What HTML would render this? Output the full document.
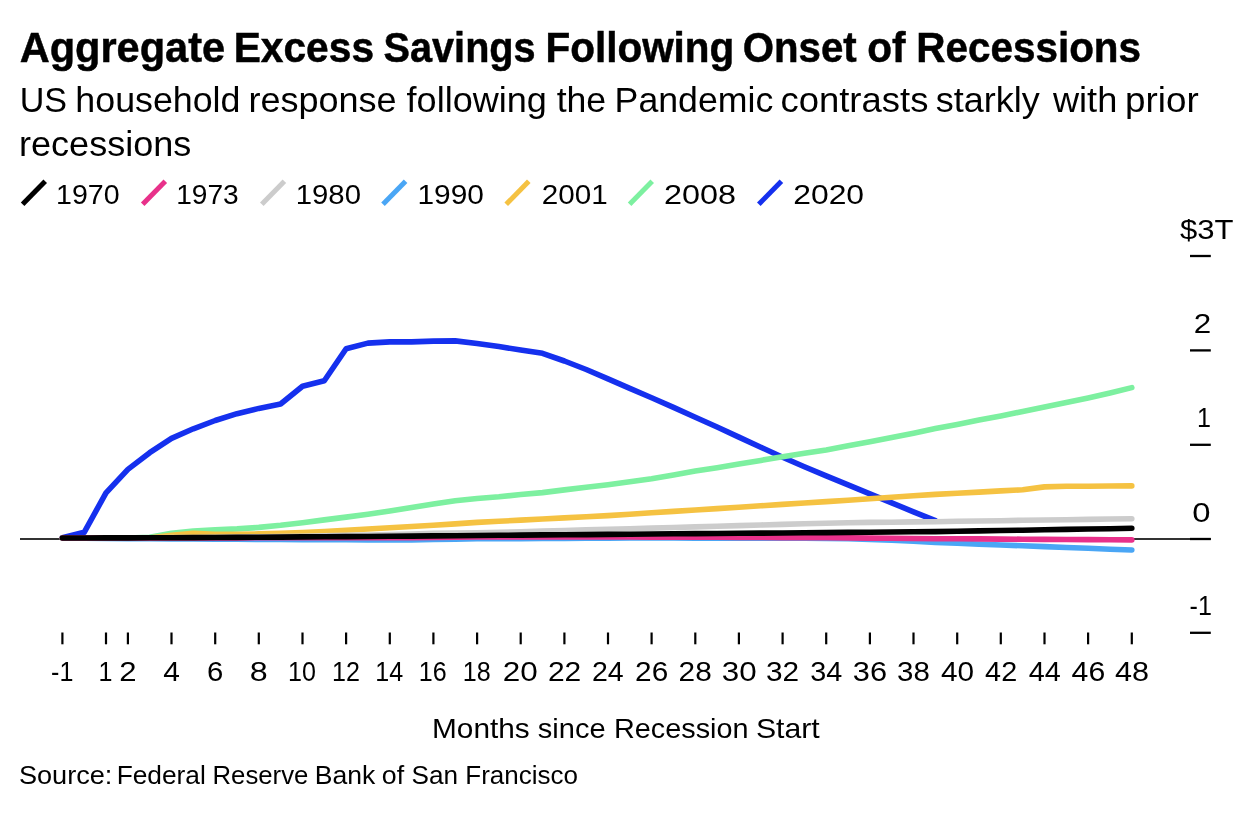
<!DOCTYPE html>
<html lang="en"><head><meta charset="utf-8"><title>Aggregate Excess Savings Following Onset of Recessions</title>
<style>
html,body{margin:0;padding:0;background:#fff;}
body{width:1254px;height:830px;overflow:hidden;}
svg{display:block;}
text{font-family:"Liberation Sans",Arial,Helvetica,sans-serif;fill:#000;}
</style></head><body>
<svg width="1254" height="830" viewBox="0 0 1254 830">
<rect width="1254" height="830" fill="#fff"/>
<line x1="22.6" y1="204.3" x2="45.2" y2="181.3" stroke="#000000" stroke-width="5"/>
<line x1="142.7" y1="204.3" x2="165.3" y2="181.3" stroke="#e8318a" stroke-width="5"/>
<line x1="261.8" y1="204.3" x2="284.4" y2="181.3" stroke="#cccccc" stroke-width="5"/>
<line x1="383.0" y1="204.3" x2="405.6" y2="181.3" stroke="#4aa6f5" stroke-width="5"/>
<line x1="506.2" y1="204.3" x2="528.8" y2="181.3" stroke="#f5c242" stroke-width="5"/>
<line x1="629.6" y1="204.3" x2="652.2" y2="181.3" stroke="#7df0a0" stroke-width="5"/>
<line x1="758.8" y1="204.3" x2="781.4" y2="181.3" stroke="#1530ee" stroke-width="5"/>

<line x1="20" y1="539" x2="1210.8" y2="539" stroke="#333" stroke-width="2"/>
<path d="M62.4,537.7 L84.2,532.3 L106.0,492.9 L127.9,469.4 L149.7,452.7 L171.5,438.4 L193.3,428.8 L215.2,420.5 L237.0,413.7 L258.8,408.4 L280.6,404.0 L302.5,386.3 L324.3,380.8 L346.1,348.7 L367.9,343.1 L389.8,341.9 L411.6,341.9 L433.4,341.1 L455.2,340.9 L477.1,343.5 L498.9,346.6 L520.7,350.0 L542.5,353.3 L564.4,361.0 L586.2,369.5 L608.0,378.9 L629.8,388.4 L651.6,397.8 L673.5,407.4 L695.3,417.2 L717.1,427.0 L738.9,437.1 L760.8,447.2 L782.6,457.3 L804.4,466.8 L826.2,475.9 L848.1,484.9 L869.9,493.9 L891.7,502.8 L913.5,511.8 L935.4,520.6" stroke="#1530ee" stroke-width="5.6" fill="none" stroke-linecap="round" stroke-linejoin="round"/>
<path d="M62.4,538.0 L84.2,538.0 L106.0,538.0 L127.9,538.0 L149.7,537.3 L171.5,533.2 L193.3,531.1 L215.2,529.9 L237.0,528.9 L258.8,527.4 L280.6,525.3 L302.5,522.7 L324.3,519.9 L346.1,517.1 L367.9,514.3 L389.8,511.0 L411.6,507.5 L433.4,504.0 L455.2,500.8 L477.1,498.5 L498.9,496.8 L520.7,494.5 L542.5,492.6 L564.4,489.9 L586.2,487.3 L608.0,484.7 L629.8,481.8 L651.6,478.8 L673.5,474.9 L695.3,471.1 L717.1,467.7 L738.9,464.0 L760.8,460.4 L782.6,456.8 L804.4,453.3 L826.2,449.9 L848.1,445.8 L869.9,441.8 L891.7,437.6 L913.5,433.3 L935.4,428.6 L957.2,424.4 L979.0,420.1 L1000.8,415.9 L1022.7,411.4 L1044.5,407.0 L1066.3,402.4 L1088.1,397.9 L1110.0,392.9 L1131.8,387.6" stroke="#7df0a0" stroke-width="5.6" fill="none" stroke-linecap="round" stroke-linejoin="round"/>
<path d="M62.4,538.0 L84.2,538.0 L106.0,538.0 L127.9,538.0 L149.7,538.0 L171.5,535.2 L193.3,533.3 L215.2,534.3 L237.0,534.2 L258.8,533.9 L280.6,533.3 L302.5,532.6 L324.3,531.5 L346.1,530.3 L367.9,529.0 L389.8,527.7 L411.6,526.5 L433.4,525.2 L455.2,523.9 L477.1,522.4 L498.9,521.3 L520.7,520.1 L542.5,519.0 L564.4,517.9 L586.2,516.7 L608.0,515.6 L629.8,514.2 L651.6,512.8 L673.5,511.4 L695.3,510.0 L717.1,508.6 L738.9,507.2 L760.8,505.8 L782.6,504.4 L804.4,503.0 L826.2,501.6 L848.1,500.2 L869.9,498.7 L891.7,497.3 L913.5,495.8 L935.4,494.4 L957.2,493.2 L979.0,492.1 L1000.8,490.9 L1022.7,489.8 L1044.5,486.9 L1066.3,486.3 L1088.1,486.2 L1110.0,486.0 L1131.8,485.9" stroke="#f5c242" stroke-width="5.6" fill="none" stroke-linecap="round" stroke-linejoin="round"/>
<path d="M62.4,538.0 L84.2,538.2 L106.0,538.4 L127.9,538.6 L149.7,538.8 L171.5,538.9 L193.3,539.0 L215.2,539.1 L237.0,539.2 L258.8,539.4 L280.6,539.5 L302.5,539.6 L324.3,539.7 L346.1,539.8 L367.9,539.9 L389.8,540.0 L411.6,539.9 L433.4,539.4 L455.2,539.1 L477.1,538.8 L498.9,538.7 L520.7,538.6 L542.5,538.5 L564.4,538.4 L586.2,538.3 L608.0,538.2 L629.8,538.0 L651.6,538.0 L673.5,538.0 L695.3,538.1 L717.1,538.1 L738.9,538.1 L760.8,538.1 L782.6,538.2 L804.4,538.2 L826.2,538.4 L848.1,538.8 L869.9,539.5 L891.7,540.3 L913.5,541.3 L935.4,542.4 L957.2,543.3 L979.0,544.1 L1000.8,545.0 L1022.7,545.8 L1044.5,546.6 L1066.3,547.5 L1088.1,548.3 L1110.0,549.2 L1131.8,550.0" stroke="#4aa6f5" stroke-width="5.6" fill="none" stroke-linecap="round" stroke-linejoin="round"/>
<path d="M62.4,538.0 L84.2,537.9 L106.0,537.8 L127.9,537.8 L149.7,537.7 L171.5,537.6 L193.3,537.5 L215.2,537.2 L237.0,537.0 L258.8,536.7 L280.6,536.5 L302.5,536.2 L324.3,535.8 L346.1,535.4 L367.9,535.0 L389.8,534.5 L411.6,534.0 L433.4,533.4 L455.2,533.1 L477.1,532.8 L498.9,532.3 L520.7,531.7 L542.5,531.1 L564.4,530.5 L586.2,529.9 L608.0,529.3 L629.8,528.7 L651.6,528.1 L673.5,527.5 L695.3,526.9 L717.1,526.3 L738.9,525.6 L760.8,525.0 L782.6,524.4 L804.4,523.8 L826.2,523.2 L848.1,522.7 L869.9,522.4 L891.7,522.2 L913.5,521.9 L935.4,521.7 L957.2,521.3 L979.0,521.0 L1000.8,520.7 L1022.7,520.3 L1044.5,520.0 L1066.3,519.7 L1088.1,519.4 L1110.0,519.0 L1131.8,518.7" stroke="#cccccc" stroke-width="5.6" fill="none" stroke-linecap="round" stroke-linejoin="round"/>
<path d="M62.4,538.0 L84.2,538.0 L106.0,538.0 L127.9,537.9 L149.7,537.9 L171.5,537.9 L193.3,537.9 L215.2,537.9 L237.0,537.9 L258.8,537.8 L280.6,537.8 L302.5,537.8 L324.3,537.8 L346.1,537.8 L367.9,537.8 L389.8,537.8 L411.6,537.7 L433.4,537.5 L455.2,537.2 L477.1,537.0 L498.9,537.0 L520.7,537.0 L542.5,537.0 L564.4,537.0 L586.2,537.0 L608.0,537.0 L629.8,537.0 L651.6,537.1 L673.5,537.1 L695.3,537.2 L717.1,537.3 L738.9,537.4 L760.8,537.5 L782.6,537.6 L804.4,537.7 L826.2,537.7 L848.1,537.9 L869.9,538.1 L891.7,538.3 L913.5,538.5 L935.4,538.7 L957.2,538.8 L979.0,538.9 L1000.8,539.1 L1022.7,539.2 L1044.5,539.4 L1066.3,539.5 L1088.1,539.6 L1110.0,539.8 L1131.8,539.9" stroke="#e8318a" stroke-width="5.6" fill="none" stroke-linecap="round" stroke-linejoin="round"/>
<path d="M62.4,538.0 L84.2,538.0 L106.0,537.9 L127.9,537.9 L149.7,537.8 L171.5,537.8 L193.3,537.6 L215.2,537.5 L237.0,537.4 L258.8,537.2 L280.6,537.1 L302.5,536.9 L324.3,536.8 L346.1,536.6 L367.9,536.5 L389.8,536.3 L411.6,536.1 L433.4,535.9 L455.2,535.7 L477.1,535.5 L498.9,535.3 L520.7,535.1 L542.5,534.9 L564.4,534.8 L586.2,534.6 L608.0,534.4 L629.8,534.2 L651.6,534.0 L673.5,533.8 L695.3,533.6 L717.1,533.5 L738.9,533.3 L760.8,533.1 L782.6,533.0 L804.4,532.8 L826.2,532.6 L848.1,532.4 L869.9,532.2 L891.7,532.0 L913.5,531.8 L935.4,531.6 L957.2,531.3 L979.0,530.9 L1000.8,530.5 L1022.7,530.2 L1044.5,529.8 L1066.3,529.4 L1088.1,529.0 L1110.0,528.7 L1131.8,528.3" stroke="#000000" stroke-width="5.6" fill="none" stroke-linecap="round" stroke-linejoin="round"/>
<line x1="62.4" y1="632.5" x2="62.4" y2="644.3" stroke="#000" stroke-width="2.2"/>
<line x1="106.0" y1="632.5" x2="106.0" y2="644.3" stroke="#000" stroke-width="2.2"/>
<line x1="127.9" y1="632.5" x2="127.9" y2="644.3" stroke="#000" stroke-width="2.2"/>
<line x1="171.5" y1="632.5" x2="171.5" y2="644.3" stroke="#000" stroke-width="2.2"/>
<line x1="215.2" y1="632.5" x2="215.2" y2="644.3" stroke="#000" stroke-width="2.2"/>
<line x1="258.8" y1="632.5" x2="258.8" y2="644.3" stroke="#000" stroke-width="2.2"/>
<line x1="302.5" y1="632.5" x2="302.5" y2="644.3" stroke="#000" stroke-width="2.2"/>
<line x1="346.1" y1="632.5" x2="346.1" y2="644.3" stroke="#000" stroke-width="2.2"/>
<line x1="389.8" y1="632.5" x2="389.8" y2="644.3" stroke="#000" stroke-width="2.2"/>
<line x1="433.4" y1="632.5" x2="433.4" y2="644.3" stroke="#000" stroke-width="2.2"/>
<line x1="477.1" y1="632.5" x2="477.1" y2="644.3" stroke="#000" stroke-width="2.2"/>
<line x1="520.7" y1="632.5" x2="520.7" y2="644.3" stroke="#000" stroke-width="2.2"/>
<line x1="564.4" y1="632.5" x2="564.4" y2="644.3" stroke="#000" stroke-width="2.2"/>
<line x1="608.0" y1="632.5" x2="608.0" y2="644.3" stroke="#000" stroke-width="2.2"/>
<line x1="651.6" y1="632.5" x2="651.6" y2="644.3" stroke="#000" stroke-width="2.2"/>
<line x1="695.3" y1="632.5" x2="695.3" y2="644.3" stroke="#000" stroke-width="2.2"/>
<line x1="738.9" y1="632.5" x2="738.9" y2="644.3" stroke="#000" stroke-width="2.2"/>
<line x1="782.6" y1="632.5" x2="782.6" y2="644.3" stroke="#000" stroke-width="2.2"/>
<line x1="826.2" y1="632.5" x2="826.2" y2="644.3" stroke="#000" stroke-width="2.2"/>
<line x1="869.9" y1="632.5" x2="869.9" y2="644.3" stroke="#000" stroke-width="2.2"/>
<line x1="913.5" y1="632.5" x2="913.5" y2="644.3" stroke="#000" stroke-width="2.2"/>
<line x1="957.2" y1="632.5" x2="957.2" y2="644.3" stroke="#000" stroke-width="2.2"/>
<line x1="1000.8" y1="632.5" x2="1000.8" y2="644.3" stroke="#000" stroke-width="2.2"/>
<line x1="1044.5" y1="632.5" x2="1044.5" y2="644.3" stroke="#000" stroke-width="2.2"/>
<line x1="1088.1" y1="632.5" x2="1088.1" y2="644.3" stroke="#000" stroke-width="2.2"/>
<line x1="1131.8" y1="632.5" x2="1131.8" y2="644.3" stroke="#000" stroke-width="2.2"/>

<line x1="1190" y1="256" x2="1210.8" y2="256" stroke="#000" stroke-width="2.3"/>
<line x1="1190" y1="350.4" x2="1210.8" y2="350.4" stroke="#000" stroke-width="2.3"/>
<line x1="1190" y1="444.8" x2="1210.8" y2="444.8" stroke="#000" stroke-width="2.3"/>
<line x1="1190" y1="539.0" x2="1210.8" y2="539.0" stroke="#000" stroke-width="2.3"/>
<line x1="1190" y1="632.8" x2="1210.8" y2="632.8" stroke="#000" stroke-width="2.3"/>

<text y="62.0" font-size="43" font-weight="bold" stroke="#000" stroke-width="0.5"><tspan x="19.64" textLength="205.47" lengthAdjust="spacingAndGlyphs">Aggregate</tspan> <tspan x="233.71" textLength="140.34" lengthAdjust="spacingAndGlyphs">Excess</tspan> <tspan x="383.62" textLength="151.98" lengthAdjust="spacingAndGlyphs">Savings</tspan> <tspan x="545.50" textLength="188.79" lengthAdjust="spacingAndGlyphs">Following</tspan> <tspan x="742.64" textLength="114.05" lengthAdjust="spacingAndGlyphs">Onset</tspan> <tspan x="867.32" textLength="38.30" lengthAdjust="spacingAndGlyphs">of</tspan> <tspan x="916.22" textLength="224.83" lengthAdjust="spacingAndGlyphs">Recessions</tspan></text>
<text y="112.1" font-size="34.5"><tspan x="19.69" textLength="47.39" lengthAdjust="spacingAndGlyphs">US</tspan> <tspan x="75.39" textLength="165.09" lengthAdjust="spacingAndGlyphs">household</tspan> <tspan x="248.56" textLength="148.11" lengthAdjust="spacingAndGlyphs">response</tspan> <tspan x="406.59" textLength="140.25" lengthAdjust="spacingAndGlyphs">following</tspan> <tspan x="556.66" textLength="49.53" lengthAdjust="spacingAndGlyphs">the</tspan> <tspan x="614.64" textLength="158.67" lengthAdjust="spacingAndGlyphs">Pandemic</tspan> <tspan x="780.46" textLength="147.95" lengthAdjust="spacingAndGlyphs">contrasts</tspan> <tspan x="935.73" textLength="103.96" lengthAdjust="spacingAndGlyphs">starkly</tspan> <tspan x="1052.93" textLength="64.38" lengthAdjust="spacingAndGlyphs">with</tspan> <tspan x="1125.11" textLength="73.63" lengthAdjust="spacingAndGlyphs">prior</tspan></text>
<text x="19.02" y="156.0" font-size="34.5" textLength="172.28" lengthAdjust="spacingAndGlyphs">recessions</text>
<text x="56.08" y="203.7" font-size="28.5" textLength="63.51" lengthAdjust="spacingAndGlyphs">1970</text>
<text x="176.17" y="203.7" font-size="28.5" textLength="62.56" lengthAdjust="spacingAndGlyphs">1973</text>
<text x="295.75" y="203.7" font-size="28.5" textLength="65.20" lengthAdjust="spacingAndGlyphs">1980</text>
<text x="417.49" y="203.7" font-size="28.5" textLength="66.47" lengthAdjust="spacingAndGlyphs">1990</text>
<text x="541.88" y="203.7" font-size="28.5" textLength="65.94" lengthAdjust="spacingAndGlyphs">2001</text>
<text x="664.01" y="203.7" font-size="28.5" textLength="72.03" lengthAdjust="spacingAndGlyphs">2008</text>
<text x="793.19" y="203.7" font-size="28.5" textLength="70.91" lengthAdjust="spacingAndGlyphs">2020</text>
<text x="1179.93" y="238.6" font-size="28.5" textLength="53.54" lengthAdjust="spacingAndGlyphs">$3T</text>
<text x="1193.76" y="333.0" font-size="28.5" textLength="17.45" lengthAdjust="spacingAndGlyphs">2</text>
<text x="1196.96" y="426.9" font-size="28.5" textLength="13.96" lengthAdjust="spacingAndGlyphs">1</text>
<text x="1192.28" y="521.9" font-size="28.5" textLength="18.24" lengthAdjust="spacingAndGlyphs">0</text>
<text x="1189.62" y="614.8" font-size="28.5" textLength="22.30" lengthAdjust="spacingAndGlyphs">-1</text>
<text y="737.8" font-size="28"><tspan x="432.01" textLength="97.71" lengthAdjust="spacingAndGlyphs">Months</tspan> <tspan x="537.83" textLength="67.76" lengthAdjust="spacingAndGlyphs">since</tspan> <tspan x="614.02" textLength="134.44" lengthAdjust="spacingAndGlyphs">Recession</tspan> <tspan x="755.95" textLength="63.83" lengthAdjust="spacingAndGlyphs">Start</tspan></text>
<text y="783.9" font-size="26.5"><tspan x="18.95" textLength="93.43" lengthAdjust="spacingAndGlyphs">Source:</tspan> <tspan x="116.63" textLength="89.23" lengthAdjust="spacingAndGlyphs">Federal</tspan> <tspan x="212.51" textLength="95.81" lengthAdjust="spacingAndGlyphs">Reserve</tspan> <tspan x="314.73" textLength="60.51" lengthAdjust="spacingAndGlyphs">Bank</tspan> <tspan x="381.79" textLength="22.32" lengthAdjust="spacingAndGlyphs">of</tspan> <tspan x="411.62" textLength="46.51" lengthAdjust="spacingAndGlyphs">San</tspan> <tspan x="465.31" textLength="112.72" lengthAdjust="spacingAndGlyphs">Francisco</tspan></text>
<text x="51.06" y="680.8" font-size="28.5" textLength="22.30" lengthAdjust="spacingAndGlyphs">-1</text>
<text x="98.55" y="680.8" font-size="28.5" textLength="13.96" lengthAdjust="spacingAndGlyphs">1</text>
<text x="119.25" y="680.8" font-size="28.5" textLength="17.32" lengthAdjust="spacingAndGlyphs">2</text>
<text x="163.33" y="680.8" font-size="28.5" textLength="16.65" lengthAdjust="spacingAndGlyphs">4</text>
<text x="207.14" y="680.8" font-size="28.5" textLength="16.31" lengthAdjust="spacingAndGlyphs">6</text>
<text x="249.82" y="680.8" font-size="28.5" textLength="17.93" lengthAdjust="spacingAndGlyphs">8</text>
<text x="288.08" y="680.8" font-size="28.5" textLength="27.90" lengthAdjust="spacingAndGlyphs">10</text>
<text x="331.98" y="680.8" font-size="28.5" textLength="27.90" lengthAdjust="spacingAndGlyphs">12</text>
<text x="375.26" y="680.8" font-size="28.5" textLength="27.90" lengthAdjust="spacingAndGlyphs">14</text>
<text x="418.72" y="680.8" font-size="28.5" textLength="27.90" lengthAdjust="spacingAndGlyphs">16</text>
<text x="462.71" y="680.8" font-size="28.5" textLength="27.90" lengthAdjust="spacingAndGlyphs">18</text>
<text x="502.86" y="680.8" font-size="28.5" textLength="34.98" lengthAdjust="spacingAndGlyphs">20</text>
<text x="547.95" y="680.8" font-size="28.5" textLength="33.34" lengthAdjust="spacingAndGlyphs">22</text>
<text x="592.00" y="680.8" font-size="28.5" textLength="31.70" lengthAdjust="spacingAndGlyphs">24</text>
<text x="635.14" y="680.8" font-size="28.5" textLength="33.12" lengthAdjust="spacingAndGlyphs">26</text>
<text x="678.62" y="680.8" font-size="28.5" textLength="33.12" lengthAdjust="spacingAndGlyphs">28</text>
<text x="721.81" y="680.8" font-size="28.5" textLength="34.87" lengthAdjust="spacingAndGlyphs">30</text>
<text x="765.94" y="680.8" font-size="28.5" textLength="33.12" lengthAdjust="spacingAndGlyphs">32</text>
<text x="810.16" y="680.8" font-size="28.5" textLength="32.02" lengthAdjust="spacingAndGlyphs">34</text>
<text x="852.88" y="680.8" font-size="28.5" textLength="34.22" lengthAdjust="spacingAndGlyphs">36</text>
<text x="897.09" y="680.8" font-size="28.5" textLength="32.76" lengthAdjust="spacingAndGlyphs">38</text>
<text x="940.96" y="680.8" font-size="28.5" textLength="33.08" lengthAdjust="spacingAndGlyphs">40</text>
<text x="985.13" y="680.8" font-size="28.5" textLength="32.02" lengthAdjust="spacingAndGlyphs">42</text>
<text x="1028.63" y="680.8" font-size="28.5" textLength="32.02" lengthAdjust="spacingAndGlyphs">44</text>
<text x="1071.59" y="680.8" font-size="28.5" textLength="33.61" lengthAdjust="spacingAndGlyphs">46</text>
<text x="1115.01" y="680.8" font-size="28.5" textLength="34.03" lengthAdjust="spacingAndGlyphs">48</text>

</svg>
</body></html>
